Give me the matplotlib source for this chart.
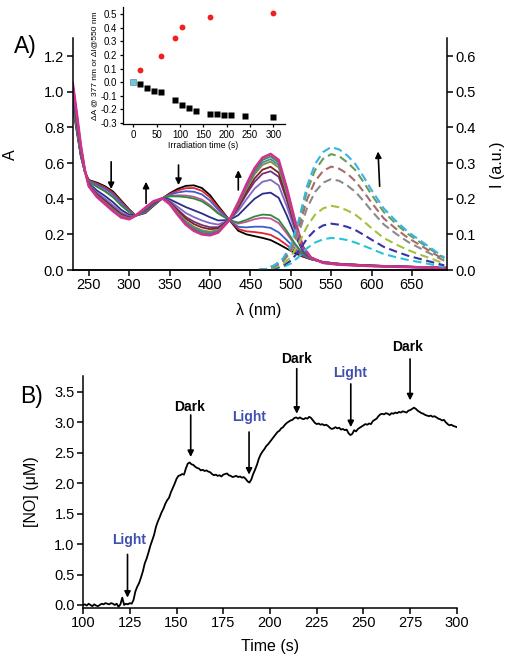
import numpy as np
import matplotlib
matplotlib.use("Agg")
import matplotlib.pyplot as plt

plt.rcParams['font.family'] = ['Liberation Sans', 'DejaVu Sans']

# ---- (A) absorption spectra during irradiation ----
wl = [230, 235, 240, 245, 250, 260, 270, 280, 290, 300,
      308, 320, 330, 341, 350, 360, 370, 380, 390, 400, 410,
      424, 435, 445, 455, 465, 475, 485, 495, 505, 515, 525,
      540, 560, 600, 650, 692]

absorb = [
    [0.92, 0.78, 0.64, 0.55, 0.505, 0.49, 0.47, 0.44, 0.39, 0.34,
     0.305, 0.32, 0.36, 0.402, 0.43, 0.455, 0.472, 0.475, 0.46, 0.42, 0.36,
     0.28, 0.22, 0.20, 0.19, 0.18, 0.168, 0.145, 0.12, 0.095, 0.075, 0.06,
     0.045, 0.035, 0.025, 0.018, 0.012],
    [0.928, 0.786, 0.644, 0.551, 0.503, 0.485, 0.464, 0.433, 0.384, 0.337,
     0.305, 0.322, 0.362, 0.402, 0.426, 0.446, 0.459, 0.460, 0.444, 0.407, 0.351,
     0.28, 0.230, 0.217, 0.213, 0.207, 0.197, 0.173, 0.140, 0.106, 0.078, 0.061,
     0.045, 0.035, 0.025, 0.018, 0.012],
    [0.938, 0.794, 0.648, 0.551, 0.500, 0.479, 0.456, 0.425, 0.377, 0.332,
     0.305, 0.324, 0.364, 0.402, 0.422, 0.435, 0.442, 0.439, 0.424, 0.389, 0.339,
     0.28, 0.242, 0.239, 0.243, 0.243, 0.236, 0.211, 0.168, 0.121, 0.083, 0.061,
     0.044, 0.034, 0.025, 0.018, 0.012],
    [0.953, 0.805, 0.655, 0.553, 0.496, 0.470, 0.445, 0.413, 0.366, 0.326,
     0.305, 0.328, 0.366, 0.402, 0.415, 0.419, 0.418, 0.411, 0.395, 0.364, 0.323,
     0.28, 0.260, 0.270, 0.285, 0.293, 0.289, 0.263, 0.205, 0.141, 0.089, 0.063,
     0.044, 0.034, 0.024, 0.018, 0.012],
    [0.958, 0.809, 0.657, 0.553, 0.495, 0.467, 0.441, 0.408, 0.362, 0.324,
     0.305, 0.329, 0.367, 0.402, 0.413, 0.413, 0.409, 0.401, 0.385, 0.355, 0.317,
     0.28, 0.266, 0.281, 0.300, 0.311, 0.308, 0.282, 0.219, 0.149, 0.091, 0.063,
     0.044, 0.034, 0.024, 0.018, 0.012],
    [0.992, 0.835, 0.673, 0.556, 0.486, 0.446, 0.415, 0.380, 0.338, 0.310,
     0.305, 0.337, 0.374, 0.402, 0.397, 0.375, 0.353, 0.335, 0.317, 0.296, 0.278,
     0.28, 0.308, 0.354, 0.399, 0.428, 0.434, 0.405, 0.307, 0.197, 0.105, 0.066,
     0.042, 0.032, 0.024, 0.017, 0.012],
    [1.011, 0.850, 0.682, 0.557, 0.481, 0.434, 0.400, 0.363, 0.324, 0.302,
     0.305, 0.341, 0.378, 0.402, 0.388, 0.354, 0.320, 0.297, 0.278, 0.263, 0.255,
     0.28, 0.332, 0.396, 0.456, 0.495, 0.506, 0.475, 0.358, 0.225, 0.114, 0.067,
     0.042, 0.032, 0.023, 0.017, 0.012],
    [1.024, 0.860, 0.688, 0.558, 0.477, 0.426, 0.390, 0.352, 0.314, 0.296,
     0.305, 0.344, 0.380, 0.402, 0.382, 0.339, 0.298, 0.271, 0.252, 0.240, 0.240,
     0.28, 0.348, 0.424, 0.494, 0.540, 0.554, 0.523, 0.392, 0.243, 0.119, 0.068,
     0.041, 0.031, 0.023, 0.016, 0.012],
    [1.031, 0.865, 0.691, 0.559, 0.475, 0.422, 0.385, 0.347, 0.309, 0.293,
     0.305, 0.346, 0.381, 0.402, 0.379, 0.332, 0.288, 0.258, 0.239, 0.229, 0.233,
     0.28, 0.356, 0.438, 0.513, 0.563, 0.579, 0.546, 0.409, 0.252, 0.122, 0.069,
     0.041, 0.031, 0.023, 0.016, 0.012],
    [1.038, 0.871, 0.695, 0.559, 0.473, 0.417, 0.379, 0.340, 0.304, 0.290,
     0.305, 0.347, 0.383, 0.402, 0.375, 0.323, 0.275, 0.243, 0.223, 0.215, 0.224,
     0.28, 0.366, 0.455, 0.536, 0.590, 0.608, 0.575, 0.429, 0.263, 0.125, 0.069,
     0.040, 0.030, 0.022, 0.016, 0.012],
    [1.042, 0.874, 0.696, 0.559, 0.472, 0.415, 0.376, 0.337, 0.301, 0.288,
     0.305, 0.348, 0.384, 0.402, 0.374, 0.319, 0.268, 0.235, 0.216, 0.209, 0.219,
     0.28, 0.370, 0.463, 0.547, 0.603, 0.622, 0.589, 0.440, 0.269, 0.127, 0.069,
     0.040, 0.030, 0.022, 0.016, 0.012],
    [1.046, 0.877, 0.698, 0.560, 0.471, 0.412, 0.373, 0.333, 0.298, 0.287,
     0.305, 0.349, 0.384, 0.402, 0.372, 0.314, 0.262, 0.228, 0.208, 0.202, 0.215,
     0.28, 0.375, 0.472, 0.559, 0.617, 0.637, 0.603, 0.450, 0.274, 0.128, 0.070,
     0.040, 0.030, 0.022, 0.016, 0.012],
    [1.05, 0.88, 0.70, 0.56, 0.47, 0.41, 0.37, 0.33, 0.295, 0.285,
     0.305, 0.35, 0.385, 0.402, 0.37, 0.31, 0.255, 0.22, 0.20, 0.195, 0.21,
     0.28, 0.38, 0.48, 0.57, 0.63, 0.651, 0.617, 0.46, 0.28, 0.13, 0.07,
     0.04, 0.03, 0.022, 0.016, 0.012],
]
abs_colors = ['#000000', '#e3232c', '#3b5fc8', '#c8509c', '#2e8b3c', '#2a2c8c',
              '#8466c4', '#7a2c7c', '#7c2222', '#8c8a30', '#3a8ea4', '#3a8a5a',
              '#d0308e']

# emission spectra (right axis)
em_wl = [460, 470, 480, 490, 500, 510, 520, 530, 540, 550, 560, 570,
         580, 590, 600, 615, 630, 645, 660, 675, 690]
emission = [
    [0, 0.001, 0.004, 0.008, 0.018, 0.037, 0.061, 0.077, 0.086, 0.09, 0.088,
     0.084, 0.077, 0.068, 0.059, 0.045, 0.036, 0.028, 0.022, 0.015, 0.009],
    [0, 0.001, 0.005, 0.012, 0.026, 0.053, 0.088, 0.112, 0.125, 0.13, 0.127,
     0.121, 0.112, 0.099, 0.085, 0.065, 0.052, 0.040, 0.031, 0.022, 0.013],
    [0, 0.002, 0.007, 0.016, 0.036, 0.074, 0.122, 0.155, 0.173, 0.18, 0.176,
     0.167, 0.155, 0.137, 0.117, 0.09, 0.072, 0.056, 0.043, 0.031, 0.018],
    [0, 0.003, 0.010, 0.023, 0.051, 0.105, 0.173, 0.219, 0.245, 0.255, 0.250,
     0.237, 0.219, 0.194, 0.166, 0.128, 0.102, 0.079, 0.061, 0.043, 0.026],
    [0, 0.003, 0.012, 0.026, 0.058, 0.119, 0.197, 0.249, 0.278, 0.29, 0.284,
     0.270, 0.249, 0.220, 0.189, 0.145, 0.116, 0.090, 0.070, 0.049, 0.029],
    [0, 0.003, 0.013, 0.029, 0.065, 0.133, 0.221, 0.280, 0.312, 0.325, 0.319,
     0.302, 0.280, 0.247, 0.211, 0.163, 0.130, 0.101, 0.078, 0.055, 0.033],
    [0, 0.003, 0.014, 0.031, 0.069, 0.141, 0.235, 0.297, 0.331, 0.345, 0.338,
     0.321, 0.297, 0.262, 0.224, 0.173, 0.138, 0.107, 0.083, 0.059, 0.035],
]
em_colors = ['#25c4d8', '#3535a5', '#a5c03a', '#8a8a8a', '#a86a6a', '#6b9a5a', '#35b5e5']

# inset: changes vs irradiation time
t_red = [15, 60, 90, 105, 165, 300]
d_em = [0.086, 0.193, 0.326, 0.405, 0.479, 0.506]
t_sq = [15, 30, 45, 60, 90, 105, 120, 135, 165, 180, 195, 210, 240, 300]
d_abs = [-0.017, -0.042, -0.067, -0.074, -0.133, -0.168, -0.193, -0.21,
         -0.232, -0.238, -0.244, -0.246, -0.25, -0.257]

# ---- (B) NO release trace ----
no_time = np.arange(100, 301)
no_conc = [
    0.00, 0.01, -0.01, 0.02, 0.00, -0.02, 0.01, -0.01, -0.02, 0.00,   # 100
    0.02, 0.01, 0.03, 0.02, 0.01, 0.03, 0.02, 0.00, 0.02, -0.03,      # 110
    0.01, 0.12, 0.00, 0.02, 0.01, 0.03, 0.02, 0.08, 0.22, 0.30,       # 120
    0.36, 0.45, 0.55, 0.68, 0.76, 0.86, 0.97, 1.06, 1.15, 1.28,       # 130
    1.37, 1.44, 1.52, 1.58, 1.66, 1.72, 1.76, 1.85, 1.92, 1.99,       # 140
    2.07, 2.12, 2.13, 2.15, 2.14, 2.24, 2.32, 2.34, 2.31, 2.30,       # 150
    2.27, 2.25, 2.24, 2.21, 2.22, 2.20, 2.21, 2.19, 2.18, 2.15,       # 160
    2.13, 2.14, 2.12, 2.13, 2.11, 2.14, 2.15, 2.16, 2.13, 2.12,       # 170
    2.10, 2.11, 2.12, 2.10, 2.11, 2.09, 2.10, 2.07, 2.03, 2.01,       # 180
    2.06, 2.15, 2.22, 2.30, 2.40, 2.47, 2.52, 2.56, 2.61, 2.64,       # 190
    2.68, 2.72, 2.76, 2.80, 2.84, 2.86, 2.90, 2.92, 2.96, 2.99,       # 200
    3.01, 3.03, 3.04, 3.07, 3.08, 3.06, 3.08, 3.06, 3.05, 3.07,       # 210
    3.06, 3.09, 3.07, 3.03, 2.99, 2.97, 2.98, 2.96, 2.97, 2.95,       # 220
    2.96, 2.94, 2.91, 2.89, 2.90, 2.92, 2.90, 2.91, 2.88, 2.89,       # 230
    2.87, 2.88, 2.82, 2.79, 2.81, 2.87, 2.85, 2.89, 2.91, 2.93,       # 240
    2.95, 2.97, 2.96, 2.98, 2.97, 3.02, 3.04, 3.06, 3.10, 3.13,       # 250
    3.14, 3.13, 3.15, 3.14, 3.12, 3.15, 3.14, 3.16, 3.15, 3.17,       # 260
    3.16, 3.18, 3.17, 3.16, 3.19, 3.20, 3.22, 3.24, 3.22, 3.19,       # 270
    3.17, 3.15, 3.14, 3.12, 3.11, 3.10, 3.11, 3.09, 3.10, 3.08,       # 280
    3.06, 3.05, 3.03, 3.04, 3.00, 2.97, 2.95, 2.96, 2.94, 2.93,       # 290
    2.92,                                                             # 300
]

# label, text x, text y, arrow x, arrow tail, arrow tip
events = [
    ('Light', 124.7, 1.06, 123.8, 0.83, 0.12),
    ('Dark', 157.2, 3.25, 157.6, 3.12, 2.43),
    ('Light', 188.8, 3.08, 188.8, 2.84, 2.14),
    ('Dark', 214.0, 4.04, 214.3, 3.88, 3.14),
    ('Light', 243.0, 3.81, 243.2, 3.63, 2.92),
    ('Dark', 273.5, 4.23, 274.9, 4.04, 3.36),
]
light_blue = '#3f4fb2'

W, H = 506, 656
fig = plt.figure(figsize=(W / 100, H / 100), dpi=100)


def box(x0, y0, x1, y1):
    return [x0 / W, 1 - y1 / H, (x1 - x0) / W, (y1 - y0) / H]


def style(ax, size=10.5):
    for s in ['left', 'bottom', 'right']:
        ax.spines[s].set_linewidth(1.1)
    ax.spines['top'].set_visible(False)
    ax.tick_params(direction='out', length=4, width=1.1, labelsize=size, pad=2)


# top panel
ax = fig.add_axes(box(72.7, 38.3, 446.7, 270))
style(ax)
ax.spines['right'].set_visible(False)
for row, c in zip(absorb, abs_colors):
    lw = 1.9 if c == '#d0308e' else 1.3
    ax.plot(wl, row, color=c, lw=lw, solid_joinstyle='round')
ax.set_xlim(230, 693)
ax.set_ylim(0, 1.3)
ax.set_xticks(range(250, 700, 50))
ax.set_yticks(np.arange(0, 1.25, 0.2))
ax.set_yticklabels(['%.1f' % v for v in np.arange(0, 1.25, 0.2)])

axr = ax.twinx()
style(axr)
axr.spines['left'].set_visible(False)
for row, c in zip(emission, em_colors):
    axr.plot(em_wl, row, color=c, lw=1.5, dashes=(4, 2.2))
axr.set_ylim(0, 0.65)
axr.set_yticks(np.arange(0, 0.65, 0.1))
axr.set_yticklabels(['%.1f' % v for v in np.arange(0, 0.65, 0.1)])

arrow_kw = dict(arrowstyle='-|>', color='k', lw=1.2, mutation_scale=9,
                shrinkA=0, shrinkB=0)
for x0, y0, x1, y1 in [(277.6, 0.607, 277.6, 0.454), (320.8, 0.374, 320.8, 0.495),
                       (361, 0.589, 361, 0.477), (435, 0.449, 435, 0.56),
                       (610, 0.47, 608, 0.665)]:
    ax.annotate('', xy=(x1, y1), xytext=(x0, y0), arrowprops=arrow_kw)

fig.text(25 / W, 1 - 46 / H, 'A)', fontsize=16.5, ha='center', va='center')
fig.text(10 / W, 1 - 155 / H, 'A', fontsize=11.5, ha='center', va='center', rotation=90)
fig.text(259 / W, 1 - 311 / H, 'λ (nm)', fontsize=11.5, ha='center', va='center')
fig.text(498 / W, 1 - 165 / H, 'I (a.u.)', fontsize=11.5, ha='center', va='center',
         rotation=90)

# inset
ins = fig.add_axes(box(122.7, 6.7, 285, 124.3))
ins.patch.set_alpha(0)
for s in ['top', 'right']:
    ins.spines[s].set_visible(False)
for s in ['left', 'bottom']:
    ins.spines[s].set_linewidth(0.9)
ins.tick_params(direction='out', length=2.5, width=0.9, labelsize=7, pad=1.5)
ins.plot(t_red, d_em, 'o', color='#f02020', ms=4.2, mec='none')
ins.plot(t_sq, d_abs, 's', color='k', ms=4, mec='none')
ins.plot([0], [0], 's', color='#6cc8d8', ms=4.2, mec='#7a9aa0', mew=0.6)
ins.set_xlim(-22.7, 325)
ins.set_ylim(-0.311, 0.556)
ins.set_xticks(range(0, 301, 50))
ins.set_yticks(np.arange(-0.3, 0.51, 0.1))
ins.set_yticklabels(['%.1f' % v for v in np.arange(-0.3, 0.51, 0.1)])
fig.text(95 / W, 1 - 66 / H, 'ΔA @ 377 nm or ΔI@550 nm', fontsize=6, ha='center',
         va='center', rotation=90)
fig.text(203 / W, 1 - 146 / H, 'Irradiation time (s)', fontsize=6.2, ha='center',
         va='center')

# bottom panel
axb = fig.add_axes(box(83, 376, 457, 608))
style(axb)
axb.spines['right'].set_visible(False)
axb.plot(no_time, no_conc, color='k', lw=1.3)
axb.set_xlim(100, 300)
axb.set_ylim(-0.05, 3.76)
axb.set_xticks(range(100, 301, 25))
axb.set_yticks(np.arange(0, 3.6, 0.5))
axb.set_yticklabels(['%.1f' % v for v in np.arange(0, 3.6, 0.5)])
for label, tx, ty, axx, y0, y1 in events:
    col = light_blue if label == 'Light' else 'k'
    axb.text(tx, ty, label, color=col, fontsize=10, fontweight='bold',
             ha='center', va='center', clip_on=False)
    axb.annotate('', xy=(axx, y1), xytext=(axx, y0), arrowprops=arrow_kw,
                 annotation_clip=False)

fig.text(32 / W, 1 - 397 / H, 'B)', fontsize=16.5, ha='center', va='center')
fig.text(32 / W, 1 - 492 / H, '[NO] (μM)', fontsize=11.5, ha='center', va='center',
         rotation=90)
fig.text(270 / W, 1 - 646 / H, 'Time (s)', fontsize=11.5, ha='center', va='center')

fig.savefig('out.png', dpi=100)
